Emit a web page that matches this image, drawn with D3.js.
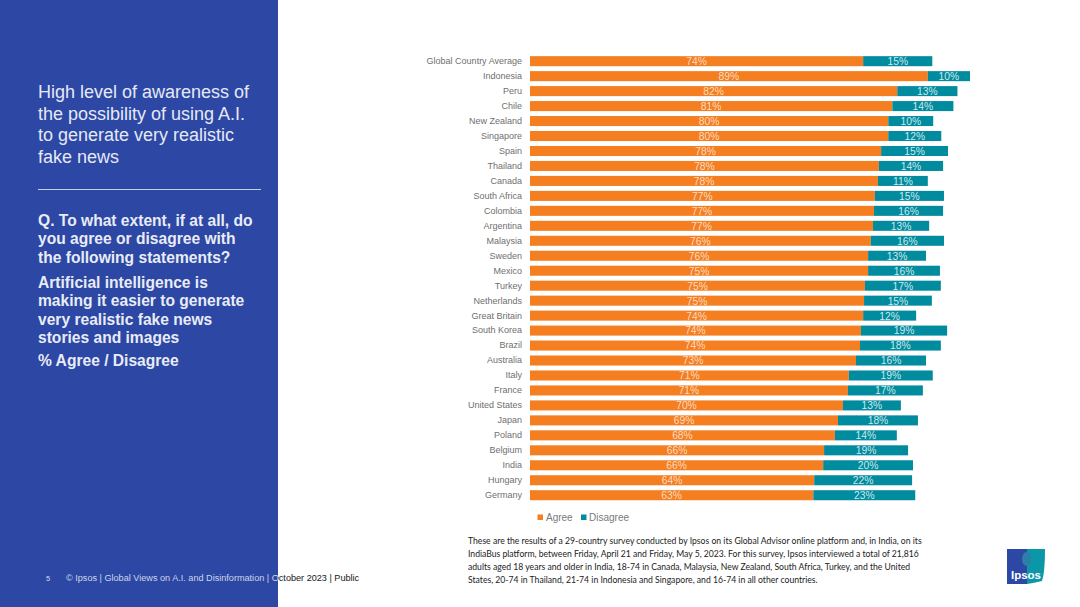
<!DOCTYPE html>
<html><head><meta charset="utf-8">
<script src="https://cdnjs.cloudflare.com/ajax/libs/d3/7.8.5/d3.min.js"></script>
<style>html,body{margin:0;padding:0;background:#fff;overflow:hidden}svg{display:block}</style>
</head><body><svg id="c" width="1080" height="607"></svg>
<script>
const categories=["Global Country Average","Indonesia","Peru","Chile","New Zealand","Singapore","Spain","Thailand","Canada","South Africa","Colombia","Argentina","Malaysia","Sweden","Mexico","Turkey","Netherlands","Great Britain","South Korea","Brazil","Australia","Italy","France","United States","Japan","Poland","Belgium","India","Hungary","Germany"];
// Bar lengths
const agree=[74.2,88.6,81.8,80.7,79.8,79.8,78.2,77.7,77.5,76.8,76.6,76.4,75.9,75.3,75.3,74.6,74.4,74.2,73.7,73.5,72.6,71.0,70.8,69.7,68.6,67.9,65.5,65.3,63.3,63.1];
const disagree=[15.4,9.4,13.4,13.6,10.0,11.8,14.9,14.3,11.1,15.4,15.4,12.5,16.3,12.9,16.0,16.9,15.1,11.8,19.2,18.0,15.6,18.7,16.7,12.9,17.8,13.8,18.7,20.0,21.8,22.7];
// Printed labels
const agreeLabels=[74,89,82,81,80,80,78,78,78,77,77,77,76,76,75,75,75,74,74,74,73,71,71,70,69,68,66,66,64,63];
const disagreeLabels=[15,10,13,14,10,12,15,14,11,15,16,13,16,13,16,17,15,12,19,18,16,19,17,13,18,14,19,20,22,23];
const seriesNames=["Agree","Disagree"];
const seriesColors=["#f47e20","#008b9e"];
const titleLines=["High level of awareness of","the possibility of using A.I.","to generate very realistic","fake news"];
const questionLines=["Q. To what extent, if at all, do","you agree or disagree with","the following statements?"];
const statementLines=["Artificial intelligence is","making it easier to generate","very realistic fake news","stories and images"];
const noteLines=["These are the results of a 29-country survey conducted by Ipsos on its Global Advisor online platform and, in India, on its","IndiaBus platform, between Friday, April 21 and Friday, May 5, 2023. For this survey, Ipsos interviewed a total of 21,816","adults aged 18 years and older in India, 18-74 in Canada, Malaysia, New Zealand, South Africa, Turkey, and the United","States, 20-74 in Thailand, 21-74 in Indonesia and Singapore, and 16-74 in all other countries."];

const svg=d3.select("#c");
const sans="'Liberation Sans',Arial,sans-serif";
const x=d3.scaleLinear().domain([0,100]).range([530,979]);
const y=d3.scaleBand().domain(categories).range([53.7,502.7]).paddingInner(0.33).paddingOuter(0.165);

svg.append("rect").attr("width",278).attr("height",607).attr("fill","#2c47a4");

const txt=(t,px,py,size,fill,opt={})=>svg.append("text").attr("x",px).attr("y",py).attr("font-family",opt.family||sans).attr("font-size",size).attr("fill",fill).attr("font-weight",opt.weight||"normal").attr("text-anchor",opt.anchor||"start").text(t);

titleLines.forEach((t,i)=>txt(t,38,98+i*21.6,18,"#e6e9f4"));
svg.append("line").attr("x1",38).attr("x2",261).attr("y1",189.5).attr("y2",189.5).attr("stroke","#c9cfe8").attr("stroke-width",1);
questionLines.forEach((t,i)=>txt(t,38,226+i*18.3,15.6,"#e9ecf6",{weight:"bold"}));
statementLines.forEach((t,i)=>txt(t,38,288+i*18.3,15.6,"#e9ecf6",{weight:"bold"}));
txt("% Agree / Disagree",38,366,15.6,"#e9ecf6",{weight:"bold"});

// category labels
const yAxis=d3.axisLeft(y).tickSize(0).tickPadding(8);
const gy=svg.append("g").attr("transform","translate(530,0)").call(yAxis);
gy.select(".domain").remove();
gy.selectAll("text").attr("font-family",sans).attr("font-size",9).attr("fill","#6f6f6f");

const rows=svg.append("g").selectAll("g").data(categories).join("g");
rows.append("rect").attr("x",x(0)).attr("y",d=>y(d)).attr("height",y.bandwidth())
  .attr("width",(d,i)=>x(agree[i])-x(0)).attr("fill",seriesColors[0]);
rows.append("rect").attr("x",(d,i)=>x(agree[i])).attr("y",d=>y(d)).attr("height",y.bandwidth())
  .attr("width",(d,i)=>x(agree[i]+disagree[i])-x(agree[i])).attr("fill",seriesColors[1]);
rows.append("text").attr("x",(d,i)=>x(agree[i]/2)).attr("y",d=>y(d)+y.bandwidth()/2+3.9)
  .attr("text-anchor","middle").attr("font-family",sans).attr("font-size",10.3).attr("fill","#fbdcc2")
  .text((d,i)=>agreeLabels[i]+"%");
rows.append("text").attr("x",(d,i)=>x(agree[i]+disagree[i]/2)).attr("y",d=>y(d)+y.bandwidth()/2+3.9)
  .attr("text-anchor","middle").attr("font-family",sans).attr("font-size",10.3).attr("fill","#cfe8ec")
  .text((d,i)=>disagreeLabels[i]+"%");

// legend
[[537.5,546],[581,589]].forEach((p,i)=>{
  svg.append("rect").attr("x",p[0]).attr("y",514.5).attr("width",5.5).attr("height",5.5).attr("fill",seriesColors[i]);
  txt(seriesNames[i],p[1],521,10,"#7a7a7a");
});

// footnote
noteLines.forEach((t,i)=>txt(t,468,544+i*12.9,8.63,"#222",{family:"Lato,'Open Sans',sans-serif"}));

// footer: one line that changes colour at the panel edge
const grad=svg.append("defs").append("linearGradient").attr("id","ft").attr("gradientUnits","userSpaceOnUse")
  .attr("x1",0).attr("x2",1080).attr("y1",0).attr("y2",0);
const edge=278/1080;
[[0,"#d5daee"],[edge,"#d5daee"],[edge,"#222"],[1,"#222"]].forEach(s=>grad.append("stop").attr("offset",s[0]).attr("stop-color",s[1]));
txt("5",46,581,7.5,"#d5daee");
txt("© Ipsos | Global Views on A.I. and Disinformation | October 2023 | Public",66,581,9.12,"url(#ft)");

// logo
const lg=svg.append("g").attr("transform","translate(1006,548)");
lg.append("path").attr("d","M1,1 L21,1 L21,36 L1,36 Z").attr("fill","#2c47a4");
lg.append("path").attr("d","M21,1 L39,1 Q39,24 36,33 Q28,35 21,36 Z").attr("fill","#0b97a8");
lg.append("ellipse").attr("cx",20.5).attr("cy",11).attr("rx",4.5).attr("ry",7).attr("fill","#2b7fa8");
lg.append("text").attr("x",20).attr("y",31).attr("text-anchor","middle").attr("font-family",sans).attr("font-weight","bold").attr("font-size",11.5).attr("fill","#fff").text("Ipsos");
</script></body></html>
